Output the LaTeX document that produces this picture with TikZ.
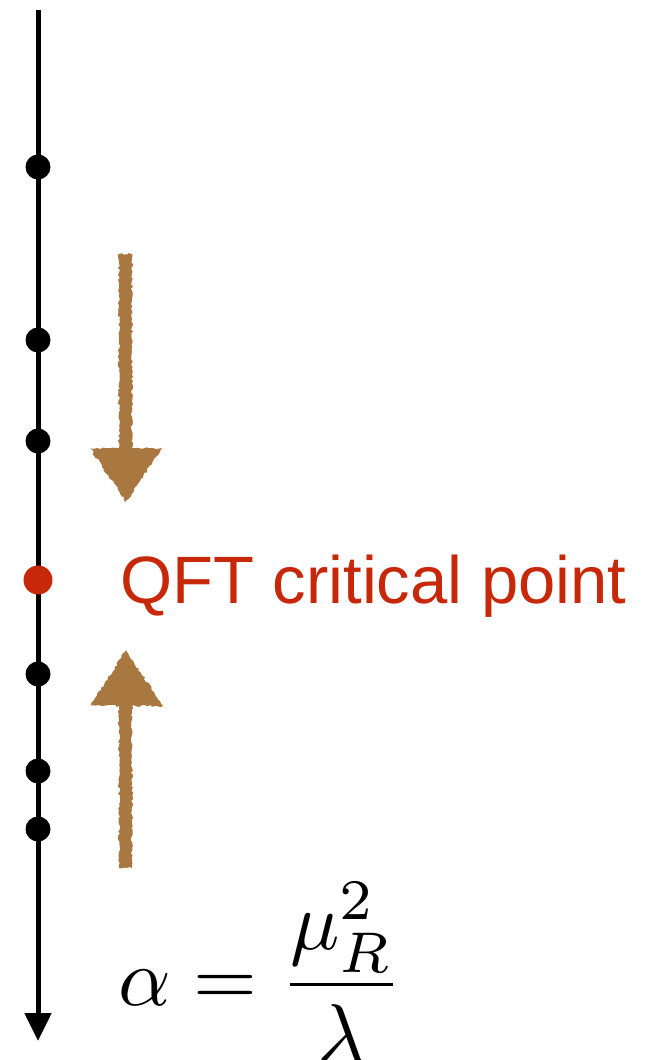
\documentclass[tikz,border=0pt]{standalone}
\usepackage{fontspec}
\newfontfamily\hfont{Liberation Sans}
\usetikzlibrary{arrows.meta,decorations.pathmorphing}
\definecolor{critred}{RGB}{200,40,10}
\definecolor{flowbrown}{RGB}{168,120,64}
\tikzset{
  dotpt/.style={circle,fill=black,inner sep=0pt,minimum size=25pt},
  critpt/.style={circle,fill=critred,inner sep=0pt,minimum size=29pt},
  sketchy/.style={fill=flowbrown,decorate,decoration={random steps,segment length=2.5pt,amplitude=1.2pt}},
  axisline/.style={line width=5pt,-{Triangle[length=28pt,width=26pt]}}
}
\begin{document}
\begin{tikzpicture}[x=1pt,y=-1pt]
\useasboundingbox (0,0) rectangle (654,1060);
\coordinate (top) at (38,10);
\coordinate (bot) at (38,1041);
\draw[axisline] (top) -- (bot);
\node[dotpt] (d1) at (38,167) {};
\node[dotpt] (d2) at (38,340) {};
\node[dotpt] (d3) at (38,441) {};
\node[critpt] (c) at (38,580) {};
\node[dotpt] (d4) at (38,674) {};
\node[dotpt] (d5) at (38,771) {};
\node[dotpt] (d6) at (38,829) {};
\node[anchor=base west,inner sep=0pt,text=critred,font=\hfont\fontsize{67}{70}\selectfont] (lbl) at (120,603) {QFT critical point};
% down arrow
\path[sketchy] (119,254) -- (132,254) -- (132,448) -- (162,448) -- (126,502) -- (90,448) -- (119,448) -- cycle;
% up arrow
\path[sketchy] (119,868) -- (132,868) -- (132,706) -- (163,706) -- (126,650) -- (90,706) -- (119,706) -- cycle;
\node[anchor=base west,inner sep=0pt] (alpha) at (118,1005) {\scalebox{8.2}{$\displaystyle\alpha = \frac{\mu_R^2}{\lambda}$}};
\end{tikzpicture}
\end{document}
